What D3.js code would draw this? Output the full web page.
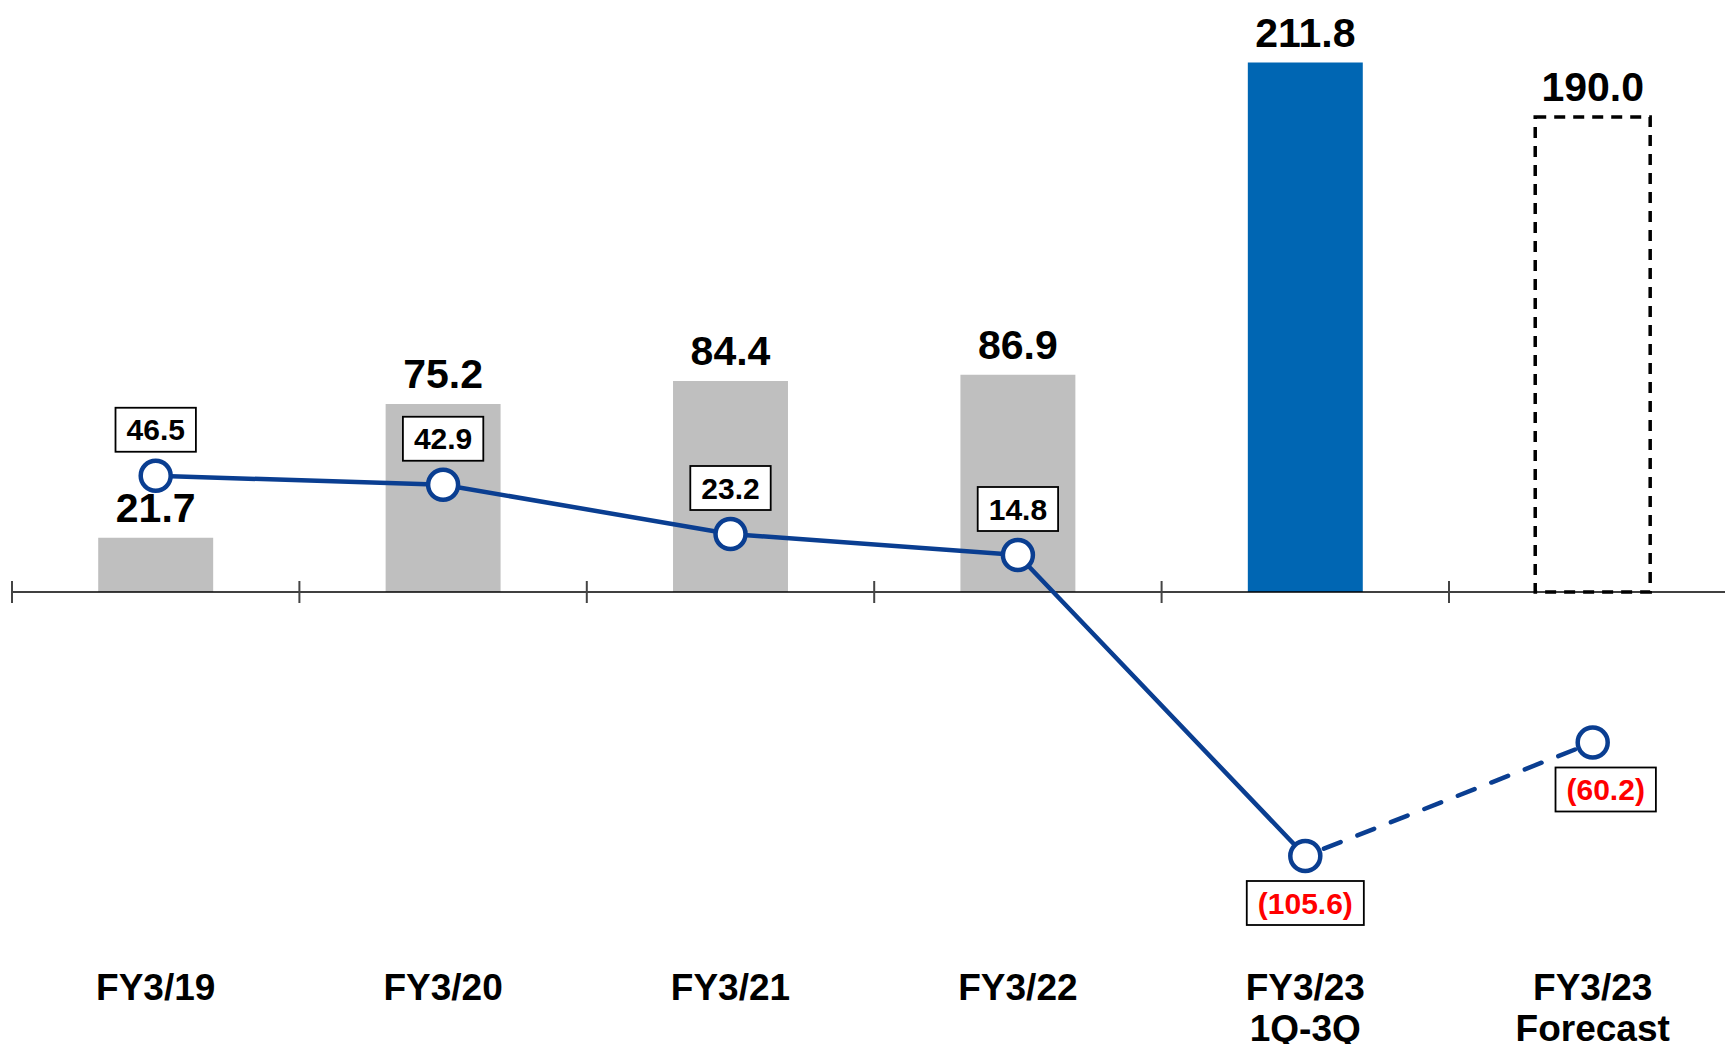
<!DOCTYPE html>
<html>
<head>
<meta charset="utf-8">
<script src="https://cdn.jsdelivr.net/npm/d3@7"></script>
<style>
    body { margin: 0; background: #ffffff; }
    svg text { font-family: "Liberation Sans", Arial, sans-serif; font-weight: bold; }
</style>
</head>
<body>
<div id="chart"></div>
<script>
//
// Bars + line chart (FY3/19 .. FY3/23 forecast)
//

const _width = 1725;
const _height = 1044;

var categories = ["FY3/19", "FY3/20", "FY3/21", "FY3/22", "FY3/23\n1Q-3Q", "FY3/23\nForecast"];
var barValues = [21.7, 75.2, 84.4, 86.9, 211.8, 190.0];
var barKinds = ["past", "past", "past", "past", "actual", "forecast"];
var lineValues = [46.5, 42.9, 23.2, 14.8, -105.6, -60.2];

var _barColors = { past: "#bfbfbf", actual: "#0066b3", forecast: "none" };
var _lineColor = "#0a3e91";

function fmt(v) {
    return v < 0 ? "(" + Math.abs(v).toFixed(1) + ")" : v.toFixed(1);
}

function drawChart(divName) {
    var svg = d3.select("#" + divName)
        .append("svg")
        .attr("width", _width)
        .attr("height", _height);

    var x = d3.scaleBand()
        .domain(categories)
        .range([12, 12 + 6 * 287.4])
        .padding(0);

    var y = d3.scaleLinear()
        .domain([-150, 236.8])
        .range([967, 0]);

    var barW = x.bandwidth() * 0.4;
    var cx = function (c) { return x(c) + x.bandwidth() / 2; };

    var data = categories.map(function (c, i) {
        return { cat: c, bar: barValues[i], kind: barKinds[i], line: lineValues[i] };
    });

    // bars
    svg.append("g")
        .selectAll("rect")
        .data(data)
        .join("rect")
        .attr("x", d => cx(d.cat) - barW / 2)
        .attr("y", d => y(d.bar))
        .attr("width", barW)
        .attr("height", d => y(0) - y(d.bar))
        .attr("fill", d => _barColors[d.kind])
        .attr("stroke", d => d.kind == "forecast" ? "#000" : "none")
        .attr("stroke-width", 3.5)
        .attr("stroke-dasharray", d => d.kind == "forecast" ? "11 8" : null);

    // bar value labels
    svg.append("g")
        .selectAll("text")
        .data(data)
        .join("text")
        .attr("x", d => cx(d.cat))
        .attr("y", d => y(d.bar) - 16)
        .attr("text-anchor", "middle")
        .style("font-size", "41px")
        .attr("fill", "#000")
        .text(d => fmt(d.bar));

    // x axis: baseline + ticks at band edges
    svg.append("line")
        .attr("x1", x(categories[0]))
        .attr("x2", _width)
        .attr("y1", y(0))
        .attr("y2", y(0))
        .attr("stroke", "#000")
        .attr("stroke-width", 1.5);

    svg.append("g")
        .selectAll("line")
        .data(categories)
        .join("line")
        .attr("x1", d => x(d))
        .attr("x2", d => x(d))
        .attr("y1", y(0) - 11)
        .attr("y2", y(0) + 11)
        .attr("stroke", "#444")
        .attr("stroke-width", 2);

    // category labels
    var labels = svg.append("g")
        .selectAll("text")
        .data(categories)
        .join("text")
        .attr("x", d => cx(d))
        .attr("y", 1000)
        .attr("text-anchor", "middle")
        .style("font-size", "37px");
    labels.each(function (d) {
        var parts = d.split("\n");
        var t = d3.select(this);
        parts.forEach(function (p, i) {
            t.append("tspan")
                .attr("x", cx(d))
                .attr("dy", i == 0 ? 0 : 41)
                .text(p);
        });
    });

    // line (solid through actuals, dashed to forecast)
    var line = d3.line()
        .x(d => cx(d.cat))
        .y(d => y(d.line));

    svg.append("path")
        .datum(data.slice(0, 5))
        .attr("fill", "none")
        .attr("stroke", _lineColor)
        .attr("stroke-width", 4.5)
        .attr("stroke-linejoin", "round")
        .attr("d", line);

    svg.append("path")
        .datum(data.slice(4, 6))
        .attr("fill", "none")
        .attr("stroke", _lineColor)
        .attr("stroke-width", 4.5)
        .attr("stroke-linecap", "round")
        .attr("stroke-dasharray", "18 18")
        .attr("stroke-dashoffset", -20)
        .attr("d", line);

    svg.append("g")
        .selectAll("circle")
        .data(data)
        .join("circle")
        .attr("cx", d => cx(d.cat))
        .attr("cy", d => y(d.line))
        .attr("r", 15)
        .attr("fill", "#fff")
        .attr("stroke", _lineColor)
        .attr("stroke-width", 4.5);

    // boxed line value labels
    var boxH = 44;
    var lbl = svg.append("g")
        .selectAll("g")
        .data(data)
        .join("g")
        .attr("transform", function (d, i) {
            var top = d.line >= 0 ? y(d.line) - 24 - boxH : y(d.line) + 25;
            var shift = i == data.length - 1 ? 13 : 0;   // last label sits a bit right of its point
            return "translate(" + (cx(d.cat) + shift) + "," + top + ")";
        });

    lbl.append("rect").attr("fill", "#fff").attr("stroke", "#000").attr("stroke-width", 1.8);
    lbl.append("text")
        .attr("text-anchor", "middle")
        .attr("y", boxH / 2 + 10.5)
        .style("font-size", "30px")
        .attr("fill", d => d.line < 0 ? "#ff0000" : "#000")
        .text(d => fmt(d.line));

    lbl.each(function () {
        var g = d3.select(this);
        var w = g.select("text").node().getComputedTextLength() + 22;
        g.select("rect")
            .attr("x", -w / 2)
            .attr("y", 0)
            .attr("width", w)
            .attr("height", boxH);
    });
}

drawChart("chart");
</script>
</body>
</html>
